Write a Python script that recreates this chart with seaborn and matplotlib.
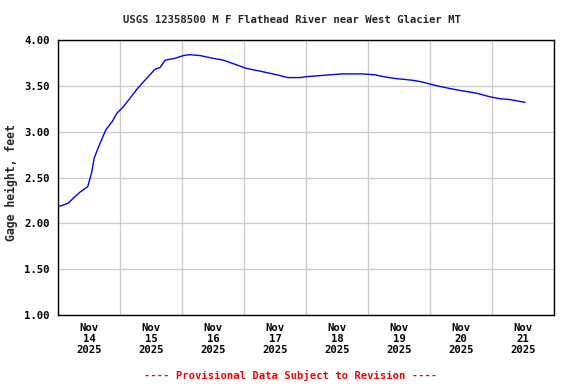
import datetime as dt

import matplotlib.dates as mdates
import matplotlib.pyplot as plt
import pandas as pd
import seaborn as sns

# gage height readings, hours after 2025-11-14 00:00
hours = [0, 4, 6.5, 8.5, 11.5, 13, 14, 15.5, 18.5, 21, 22.75, 25.25, 27.75,
         30.75, 34.25, 37.5, 39.5, 41.5, 45.25, 48.5, 51, 55, 60, 64, 69, 73,
         78.25, 84.75, 89, 93.5, 96.25, 105.25, 110, 118, 122.75, 126, 130.5,
         137.5, 141.25, 145.25, 151.75, 155.5, 162, 167.25, 171, 175, 180.75]
gage_ft = [2.18, 2.22, 2.29, 2.34, 2.40, 2.55, 2.71, 2.82, 3.02, 3.11, 3.20,
           3.27, 3.36, 3.47, 3.58, 3.68, 3.70, 3.78, 3.80, 3.83, 3.84, 3.83,
           3.80, 3.78, 3.73, 3.69, 3.66, 3.62, 3.59, 3.59, 3.60, 3.62, 3.63,
           3.63, 3.62, 3.60, 3.58, 3.56, 3.54, 3.51, 3.47, 3.45, 3.42, 3.38,
           3.36, 3.35, 3.32]
yticks = [1.0, 1.5, 2.0, 2.5, 3.0, 3.5, 4.0]

start = dt.datetime(2025, 11, 14)
df = pd.DataFrame({
    "time": [start + dt.timedelta(hours=h) for h in hours],
    "gage": gage_ft,
})

sns.set_theme(style="whitegrid")
plt.rcParams["font.family"] = ["DejaVu Sans Mono"]
plt.rcParams["font.weight"] = "bold"

fig = plt.figure(figsize=(5.76, 3.84), dpi=100)
ax = fig.add_axes([58 / 576, 69 / 384, 496 / 576, 275 / 384])

sns.lineplot(x="time", y="gage", data=df, color="#0000ff", linewidth=1, ax=ax)

ax.set_xlim(start, start + dt.timedelta(days=8))
ax.set_ylim(1.0, 4.0)
ax.set_yticks(yticks)
ax.set_yticklabels([f"{v:.2f}" for v in yticks])

# gridlines at midnight, labels at noon
ax.xaxis.set_major_locator(mdates.DayLocator())
ax.xaxis.set_major_formatter(plt.NullFormatter())
ax.xaxis.set_minor_locator(mdates.HourLocator(byhour=12))
ax.xaxis.set_minor_formatter(mdates.DateFormatter("%b\n%d\n%Y"))

ax.tick_params(axis="both", which="both", length=0, labelsize=7.7,
               colors="black")
ax.tick_params(axis="y", pad=6)
ax.tick_params(axis="x", which="minor", pad=6)
for lbl in ax.get_xticklabels(minor=True):
    lbl.set_fontweight("bold")
    lbl.set_linespacing(1.1)
for lbl in ax.get_yticklabels():
    lbl.set_fontweight("bold")

ax.grid(True, which="major", color="#cccccc", linewidth=1)
ax.set_facecolor("white")
for sp in ax.spines.values():
    sp.set_color("black")
    sp.set_linewidth(1)

ax.set_xlabel(None)
ax.set_ylabel(None)
fig.text(11 / 576, 1 - 183 / 384, "Gage height, feet", rotation=90,
         ha="center", va="center", fontsize=8.3, fontweight="bold")

fig.text(292 / 576, 1 - 20 / 384,
         "USGS 12358500 M F Flathead River near West Glacier MT",
         ha="center", va="center", fontsize=7.7, fontweight="bold")
fig.text(291 / 576, 1 - 375 / 384,
         "---- Provisional Data Subject to Revision ----",
         ha="center", va="center", fontsize=7.7, fontweight="bold",
         color="#ff0000")

fig.savefig("out.png", dpi=100)
